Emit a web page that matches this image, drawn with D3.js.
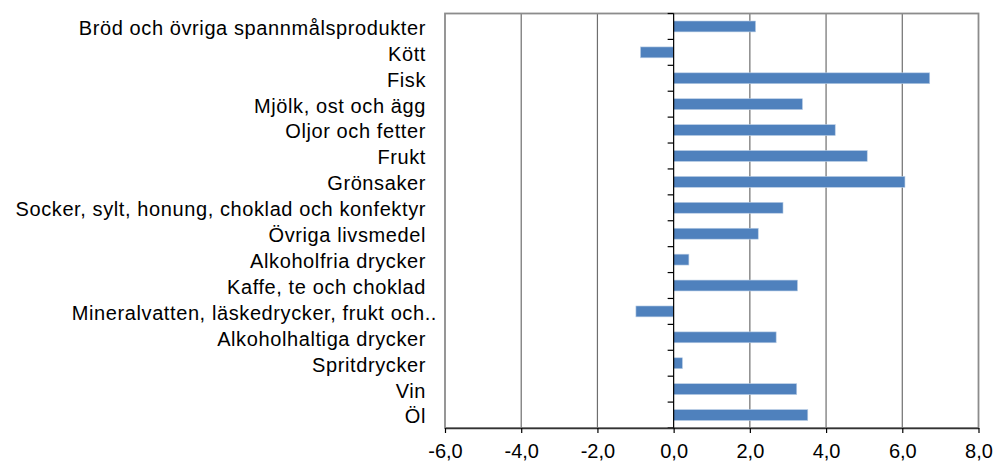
<!DOCTYPE html>
<html>
<head>
<meta charset="utf-8">
<script src="https://cdn.jsdelivr.net/npm/d3@7"></script>
<style>
  body { margin: 0; background: #fff; }
  text { font-family: "Liberation Sans", Arial, sans-serif; fill: #000; }
</style>
</head>
<body>
<svg></svg>
<script>
// categories top to bottom
const categories = [
  'Bröd och övriga spannmålsprodukter',
  'Kött',
  'Fisk',
  'Mjölk, ost och ägg',
  'Oljor och fetter',
  'Frukt',
  'Grönsaker',
  'Socker, sylt, honung, choklad och konfektyr',
  'Övriga livsmedel',
  'Alkoholfria drycker',
  'Kaffe, te och choklad',
  'Mineralvatten, läskedrycker, frukt och..',
  'Alkoholhaltiga drycker',
  'Spritdrycker',
  'Vin',
  'Öl'
]
const values = [2.15, -0.87, 6.72, 3.38, 4.24, 5.08, 6.07, 2.87, 2.22, 0.40, 3.25, -0.99, 2.69, 0.23, 3.23, 3.52]
const xTicks = [-6, -4, -2, 0, 2, 4, 6, 8]

const w = 995
const h = 466
const plotLeft = 445
const plotRight = 978.5
const plotTop = 13.5
const plotBottom = 428

let svg = d3.select('svg').attr('width', w).attr('height', h)

let xScale = d3.scaleLinear().domain([-6, 8]).range([plotLeft, plotRight])
let yScale = d3.scaleBand().domain(categories).range([plotTop, plotBottom]).padding(0)
let bw = yScale.bandwidth()
let fmt = d => d3.format('.1f')(d).replace('.', ',').replace('−', '-')

// gridlines
svg.append('g')
  .selectAll('line')
  .data(xTicks.filter(t => t !== -6 && t !== 0 && t !== 8))
  .enter()
  .append('line')
  .attr('x1', d => xScale(d)).attr('x2', d => xScale(d))
  .attr('y1', plotTop).attr('y2', plotBottom)
  .attr('stroke', '#6e6e6e')
  .attr('stroke-width', 1.2)

// plot border
svg.append('rect')
  .attr('x', plotLeft).attr('y', plotTop)
  .attr('width', plotRight - plotLeft).attr('height', plotBottom - plotTop)
  .attr('fill', 'none')
  .attr('stroke', '#8c8c8c')
  .attr('stroke-width', 1.8)

// bars
svg.selectAll('.bar')
  .data(values)
  .enter()
  .append('rect')
  .attr('class', 'bar')
  .attr('fill', '#4f81bd')
  .attr('stroke', '#b9cde5')
  .attr('stroke-width', 0.6)
  .attr('x', d => xScale(Math.min(0, d)))
  .attr('width', d => Math.abs(xScale(d) - xScale(0)))
  .attr('y', (d, i) => yScale(categories[i]) + bw * 0.29)
  .attr('height', bw * 0.42)

// zero axis with category ticks
svg.append('line')
  .attr('x1', xScale(0)).attr('x2', xScale(0))
  .attr('y1', plotTop).attr('y2', plotBottom)
  .attr('stroke', '#000')
  .attr('stroke-width', 1.2)

svg.append('g')
  .selectAll('line')
  .data(categories.map(c => yScale(c)).concat([plotBottom]))
  .enter()
  .append('line')
  .attr('x1', xScale(0) - 6).attr('x2', xScale(0))
  .attr('y1', d => d).attr('y2', d => d)
  .attr('stroke', '#000')
  .attr('stroke-width', 1.2)

// x axis
let xAxis = d3.axisBottom(xScale)
  .tickValues(xTicks)
  .tickSize(5)
  .tickSizeOuter(0)
  .tickFormat(fmt)

let gx = svg.append('g')
  .attr('transform', 'translate(0,' + plotBottom + ')')
  .call(xAxis)
gx.select('.domain').attr('stroke', '#333').attr('stroke-width', 1.5)
gx.selectAll('.tick line').attr('stroke', '#000').attr('stroke-width', 1.2)
gx.selectAll('.tick text')
  .attr('y', 16)
  .attr('font-size', '20px')
  .style('font-family', '"Liberation Sans", Arial, sans-serif')
  .attr('fill', '#000')

// category labels (the truncated one sits a little further right, as in the original)
svg.append('g')
  .selectAll('text')
  .data(categories)
  .enter()
  .append('text')
  .attr('x', d => d.endsWith('..') ? 437 : 426)
  .attr('y', d => yScale(d) + bw / 2)
  .attr('dy', '0.42em')
  .attr('text-anchor', 'end')
  .attr('font-size', '20px')
  .attr('letter-spacing', '0.6px')
  .text(d => d)
</script>
</body>
</html>
